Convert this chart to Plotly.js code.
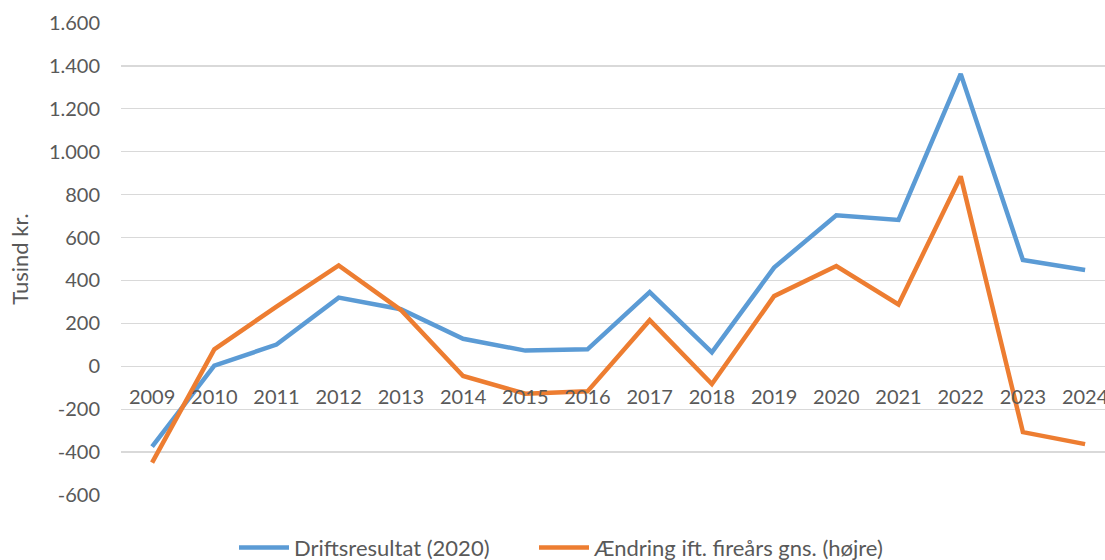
<!DOCTYPE html>
<html>
<head>
<meta charset="utf-8">
<script src="https://cdn.plot.ly/plotly-3.0.1.min.js"></script>
<style>
  html, body { margin: 0; padding: 0; background: #ffffff; }
  #chart { width: 1105px; height: 560px; }
</style>
</head>
<body>
<div id="chart"></div>
<script>
const years = ["2009","2010","2011","2012","2013","2014","2015","2016","2017","2018","2019","2020","2021","2022","2023","2024"];
const driftsresultat = [-374, 3, 101, 320, 266, 128, 73, 79, 346, 65, 460, 704, 682, 1363, 495, 449];
const aendring = [-449, 79, 278, 470, 262, -45, -128, -117, 215, -83, 327, 467, 288, 885, -307, -363];
const seriesNames = ["Driftsresultat (2020)", "Ændring ift. fireårs gns. (højre)"];
const yTickVals = [-600, -400, -200, 0, 200, 400, 600, 800, 1000, 1200, 1400, 1600];
const yTickText = ["-600", "-400", "-200", "0", "200", "400", "600", "800", "1.000", "1.200", "1.400", "1.600"];

const font = "Lato, 'Open Sans', sans-serif";
const grey = "#595959";

const traces = [
  {
    x: years, y: driftsresultat, name: seriesNames[0], type: "scatter", mode: "lines",
    line: { color: "#5B9BD5", width: 4.5 }, legend: "legend"
  },
  {
    x: years, y: aendring, name: seriesNames[1], type: "scatter", mode: "lines",
    line: { color: "#ED7D31", width: 4.5 }, legend: "legend2"
  }
];

const legendBase = {
  orientation: "h",
  xref: "container", yref: "container",
  xanchor: "left",
  y: 0.022, yanchor: "middle",
  font: { family: font, size: 22, color: grey },
  itemwidth: 50,
  bgcolor: "rgba(0,0,0,0)"
};

const layout = {
  width: 1105, height: 560,
  paper_bgcolor: "#ffffff", plot_bgcolor: "#ffffff",
  margin: { l: 121, r: 0, t: 23, b: 65 },
  font: { family: font, size: 20, color: grey },
  showlegend: true,
  legend: Object.assign({}, legendBase, { x: 234 / 1105 }),
  legend2: Object.assign({}, legendBase, { x: 534 / 1105 }),
  xaxis: {
    type: "category",
    range: [-0.5, 15.32],
    anchor: "free",
    position: 600 / 2200,
    showgrid: false,
    zeroline: false,
    showline: false,
    ticks: "",
    ticklabelstandoff: 17,
    tickfont: { family: font, size: 20, color: grey },
    fixedrange: true
  },
  yaxis: {
    range: [-600, 1600],
    tickvals: yTickVals,
    ticktext: yTickText,
    showgrid: true,
    gridcolor: "#d9d9d9",
    gridwidth: 1.3,
    zeroline: false,
    showline: false,
    ticks: "",
    ticklabelstandoff: 20,
    tickfont: { family: font, size: 20, color: grey },
    title: { text: "Tusind kr.", font: { family: font, size: 22, color: grey }, standoff: 14 },
    automargin: false,
    fixedrange: true
  }
};

Plotly.newPlot("chart", traces, layout, { displayModeBar: false, staticPlot: true });
</script>
</body>
</html>
